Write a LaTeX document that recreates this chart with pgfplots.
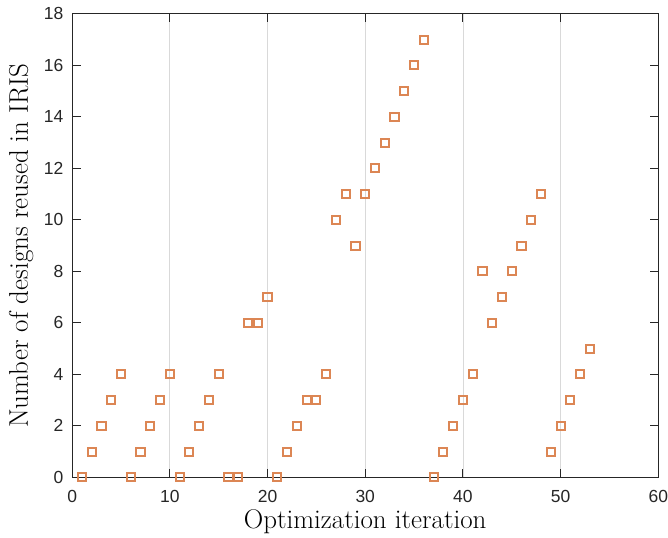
\documentclass[border=0pt]{standalone}
\usepackage{pgfplots}
\pgfplotsset{compat=1.18}
\usepackage{fontspec}
\newfontfamily\tickfont{Liberation Sans}
\definecolor{mk}{RGB}{220,134,84}
\begin{document}
\begin{tikzpicture}
\begin{axis}[
  scale only axis,
  width=352pt, height=278.4pt,
  xmin=0, xmax=60, ymin=0, ymax=18,
  xtick={0,10,...,60}, ytick={0,2,...,18},
  tick align=inside,
  major tick length=5pt,
  xmajorgrids, grid style={gray!30, line width=0.5pt},
  axis line style={line width=0.6pt, black!85},
  tick style={line width=0.6pt, black!85},
  ticklabel style={font=\tickfont\fontsize{10.5}{12}\selectfont, text=black!85},
  xticklabel style={yshift=-4pt, inner xsep=0pt},
  yticklabel style={xshift=-1.8pt, inner ysep=4.6pt},
  /pgf/number format/assume math mode=true,
  xlabel={Optimization iteration},
  ylabel={Number of designs reused in IRIS},
  label style={font=\fontsize{16.2}{19}\selectfont},
  xlabel style={at={(axis description cs:0.5,-0.0948)}, anchor=center, inner ysep=2.5pt},
  ylabel style={at={(axis description cs:-0.087,0.5)}, anchor=center, inner ysep=5.4pt},
]
\addplot[only marks, mark=square, mark size=2.45pt, mark options={draw=mk, line width=1.2pt}] coordinates {
(1,0)(2,1)(3,2)(4,3)(5,4)(6,0)(7,1)(8,2)(9,3)(10,4)
(11,0)(12,1)(13,2)(14,3)(15,4)(16,0)(17,0)(18,6)(19,6)(20,7)
(21,0)(22,1)(23,2)(24,3)(25,3)(26,4)(27,10)(28,11)(29,9)(30,11)
(31,12)(32,13)(33,14)(34,15)(35,16)(36,17)(37,0)(38,1)(39,2)(40,3)
(41,4)(42,8)(43,6)(44,7)(45,8)(46,9)(47,10)(48,11)(49,1)(50,2)
(51,3)(52,4)(53,5)
};
\end{axis}
\end{tikzpicture}
\end{document}
